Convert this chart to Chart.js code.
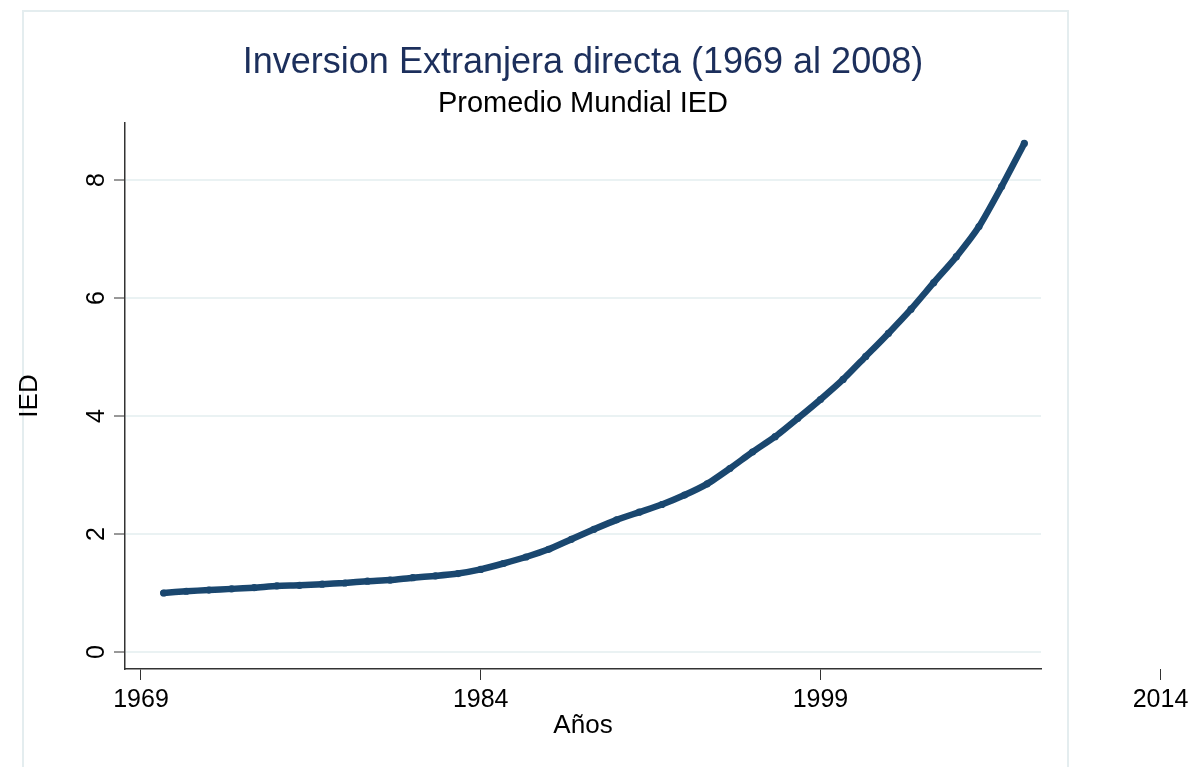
<!DOCTYPE html>
<html lang="es">
<head>
<meta charset="UTF-8">
<title>Inversion Extranjera directa (1969 al 2008)</title>
<script src="https://cdn.jsdelivr.net/npm/chart.js"></script>
<style>
  html, body { margin: 0; padding: 0; background: #fff; }
</style>
</head>
<body>
<canvas id="chart" width="1191" height="767"></canvas>
<script>
// data
const years = [1970, 1971, 1972, 1973, 1974, 1975, 1976, 1977, 1978, 1979,
               1980, 1981, 1982, 1983, 1984, 1985, 1986, 1987, 1988, 1989,
               1990, 1991, 1992, 1993, 1994, 1995, 1996, 1997, 1998, 1999,
               2000, 2001, 2002, 2003, 2004, 2005, 2006, 2007, 2008];
const ied = [1.00, 1.03, 1.05, 1.07, 1.09, 1.12, 1.13, 1.15, 1.17, 1.20,
             1.22, 1.26, 1.29, 1.33, 1.40, 1.50, 1.61, 1.74, 1.91, 2.08,
             2.24, 2.37, 2.50, 2.66, 2.85, 3.11, 3.39, 3.65, 3.96, 4.28,
             4.62, 5.01, 5.40, 5.81, 6.26, 6.70, 7.21, 7.89, 8.62];
const xTicks = [1969, 1984, 1999, 2014];
const yTicks = [0, 2, 4, 6, 8];

const FONT = '"Liberation Sans", Arial, Helvetica, sans-serif';
const LINE = '#1a476f';
const AXIS = '#333333';
const GRID = '#eaf2f3';
const TICK_FONT = 25;
const TICK_PAD = 5;
const TICK_LEN = 11;

Chart.defaults.font.family = FONT;
Chart.defaults.color = '#000';

// light border around the whole graph region
const frame = {
  id: 'frame',
  beforeDraw(chart) {
    const ctx = chart.ctx;
    ctx.save();
    ctx.fillStyle = '#fff';
    ctx.fillRect(0, 0, chart.width, chart.height);
    ctx.strokeStyle = '#e4edef';
    ctx.lineWidth = 2;
    ctx.strokeRect(23, 11, 1045, 800);
    ctx.restore();
  }
};

// rotated y labels and x ticks that fall outside the plot range
const extraTicks = {
  id: 'extraTicks',
  afterDraw(chart) {
    const ctx = chart.ctx;
    const x = chart.scales.x, y = chart.scales.y;
    ctx.save();
    ctx.font = TICK_FONT + 'px ' + FONT;
    ctx.fillStyle = '#000';

    yTicks.forEach(v => {
      const py = y.getPixelForValue(v);
      ctx.save();
      ctx.translate(y.right - 21, py);
      ctx.rotate(-Math.PI / 2);
      ctx.textAlign = 'center';
      ctx.textBaseline = 'alphabetic';
      ctx.fillText(String(v), 0, 0);
      ctx.restore();
    });

    xTicks.filter(v => v > x.max || v < x.min).forEach(v => {
      const px = Math.round(x.getPixelForValue(v)) + 0.5;
      ctx.strokeStyle = AXIS;
      ctx.lineWidth = 1;
      ctx.beginPath();
      ctx.moveTo(px, x.top);
      ctx.lineTo(px, x.top + TICK_LEN);
      ctx.stroke();
      ctx.textAlign = 'center';
      ctx.textBaseline = 'middle';
      ctx.fillText(String(v), px, x.top + TICK_LEN + TICK_PAD + TICK_FONT * 1.2 / 2);
    });
    ctx.restore();
  }
};

new Chart(document.getElementById('chart'), {
  type: 'line',
  data: {
    datasets: [{
      label: 'IED',
      data: years.map((yr, i) => ({ x: yr, y: ied[i] })),
      borderColor: LINE,
      backgroundColor: LINE,
      borderWidth: 6.5,
      borderCapStyle: 'round',
      borderJoinStyle: 'round',
      tension: 0.2,
      pointRadius: 3.6,
      pointBorderWidth: 0,
      pointBackgroundColor: LINE,
      fill: false
    }]
  },
  options: {
    responsive: false,
    animation: false,
    layout: { padding: { top: 0, right: 150, bottom: 0, left: 0 } },
    plugins: {
      legend: { display: false },
      tooltip: { enabled: false },
      title: {
        display: true,
        text: 'Inversion Extranjera directa (1969 al 2008)',
        color: '#1c2f5c',
        fullSize: false,
        font: { size: 36, weight: 'normal', lineHeight: 1 },
        padding: { top: 45, bottom: 8 }
      },
      subtitle: {
        display: true,
        text: 'Promedio Mundial IED',
        color: '#000',
        fullSize: false,
        font: { size: 29, weight: 'normal', lineHeight: 1 },
        padding: { top: 0, bottom: 5 }
      }
    },
    scales: {
      x: {
        type: 'linear',
        min: 1968.294,
        max: 2008.738,
        afterBuildTicks: s => { s.ticks = xTicks.filter(v => v >= s.min && v <= s.max).map(v => ({ value: v })); },
        afterFit: s => { s.height = 98; },
        ticks: {
          autoSkip: false,
          maxRotation: 0,
          padding: TICK_PAD,
          font: { size: TICK_FONT },
          color: '#000',
          callback: v => String(v)
        },
        grid: {
          drawOnChartArea: false,
          drawTicks: true,
          tickLength: TICK_LEN,
          tickColor: AXIS,
          tickWidth: 1
        },
        border: { display: true, color: AXIS, width: 1.5 },
        title: {
          display: true,
          text: 'Años',
          color: '#000',
          font: { size: 26, lineHeight: 1 },
          padding: { top: 0, bottom: 28 }
        }
      },
      y: {
        type: 'linear',
        min: -0.288,
        max: 8.966,
        afterBuildTicks: s => { s.ticks = yTicks.map(v => ({ value: v })); },
        afterFit: s => { s.width = 125; },
        ticks: { display: false },
        grid: {
          color: GRID,
          lineWidth: 2,
          drawTicks: true,
          tickLength: TICK_LEN,
          tickColor: AXIS,
          tickWidth: 1
        },
        border: { display: true, color: AXIS, width: 1.5 },
        title: {
          display: true,
          text: 'IED',
          color: '#000',
          font: { size: 26, lineHeight: 1 },
          padding: { top: 17, bottom: 0 }
        }
      }
    }
  },
  plugins: [frame, extraTicks]
});
</script>
</body>
</html>
